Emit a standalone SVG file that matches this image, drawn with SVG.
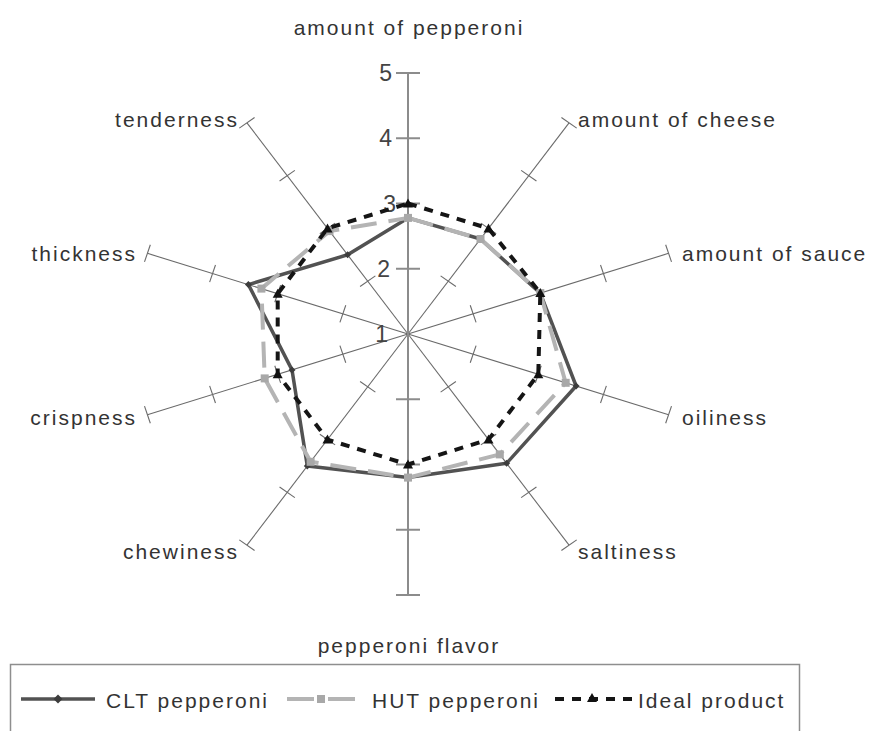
<svg xmlns="http://www.w3.org/2000/svg" xmlns:xlink="http://www.w3.org/1999/xlink" width="872" height="731" viewBox="0 0 872 731">
<style>
  .lbl { font-family: "Liberation Sans", Arial, sans-serif; font-size: 21px; letter-spacing: 2px; fill: #333; }
  .num { font-family: "Liberation Sans", Arial, sans-serif; font-size: 23px; fill: #444; text-anchor: end; }
  .ax { stroke: #6a6a6a; stroke-width: 1.1; fill: none; vector-effect: non-scaling-stroke; }
  .vax { stroke: #8c8c8c; stroke-width: 2; fill: none; }
  .clt { stroke: #525252; stroke-width: 3.5; fill: none; stroke-linejoin: round; }
  .hut { stroke: #b4b4b4; stroke-width: 4; fill: none; stroke-dasharray: 26 12; stroke-linejoin: round; }
  .ideal { stroke: #151515; stroke-width: 4; fill: none; stroke-dasharray: 9 8; stroke-linejoin: round; }
  .legbox { stroke: #8e8e8e; stroke-width: 1.5; fill: none; }
</style>
<defs>
  <g id="diag">
    <line class="ax" x1="0" y1="0" x2="0" y2="-261"/>
    <line class="ax" x1="-9" y1="-65.25" x2="9" y2="-65.25"/>
    <line class="ax" x1="-9" y1="-130.5" x2="9" y2="-130.5"/>
    <line class="ax" x1="-9" y1="-195.75" x2="9" y2="-195.75"/>
    <line class="ax" x1="-9" y1="-261" x2="9" y2="-261"/>
  </g>
  <marker id="mClt" markerWidth="10" markerHeight="10" refX="5" refY="5" markerUnits="userSpaceOnUse">
    <path d="M5 1.5 L8.5 5 L5 8.5 L1.5 5 Z" fill="#3c3c3c"/>
  </marker>
  <marker id="mHut" markerWidth="10" markerHeight="10" refX="5" refY="5" markerUnits="userSpaceOnUse">
    <rect x="1" y="1" width="8" height="8" fill="#a8a8a8"/>
  </marker>
  <marker id="mIdeal" markerWidth="12" markerHeight="12" refX="6" refY="6" markerUnits="userSpaceOnUse">
    <path d="M6 1 L11 10 L1 10 Z" fill="#111"/>
  </marker>
</defs>

<rect width="872" height="731" fill="#fff"/>

<g id="axes">
  <use xlink:href="#diag" href="#diag" transform="translate(408 334) scale(1.0498 1) rotate(36)"/>
  <use xlink:href="#diag" href="#diag" transform="translate(408 334) scale(1.0498 1) rotate(72)"/>
  <use xlink:href="#diag" href="#diag" transform="translate(408 334) scale(1.0498 1) rotate(108)"/>
  <use xlink:href="#diag" href="#diag" transform="translate(408 334) scale(1.0498 1) rotate(144)"/>
  <use xlink:href="#diag" href="#diag" transform="translate(408 334) scale(1.0498 1) rotate(216)"/>
  <use xlink:href="#diag" href="#diag" transform="translate(408 334) scale(1.0498 1) rotate(252)"/>
  <use xlink:href="#diag" href="#diag" transform="translate(408 334) scale(1.0498 1) rotate(288)"/>
  <use xlink:href="#diag" href="#diag" transform="translate(408 334) scale(1.0498 1) rotate(324)"/>
  <g id="vertical-axis">
    <line class="vax" x1="408" y1="73" x2="408" y2="595"/>
    <line class="vax" x1="396" y1="73" x2="420" y2="73"/>
    <line class="vax" x1="396" y1="138.25" x2="420" y2="138.25"/>
    <line class="vax" x1="396" y1="203.5" x2="420" y2="203.5"/>
    <line class="vax" x1="396" y1="268.75" x2="420" y2="268.75"/>
    <line class="vax" x1="396" y1="399.25" x2="420" y2="399.25"/>
    <line class="vax" x1="396" y1="464.5" x2="420" y2="464.5"/>
    <line class="vax" x1="396" y1="529.75" x2="420" y2="529.75"/>
    <line class="vax" x1="396" y1="595" x2="420" y2="595"/>
  </g>
</g>

<g id="scale-labels">
  <text class="num" x="392" y="81">5</text>
  <text class="num" x="392" y="146">4</text>
  <text class="num" x="396" y="212">3</text>
  <text class="num" x="390" y="277">2</text>
  <text class="num" x="388" y="342">1</text>
</g>

<g id="series">
  <polygon id="clt-series" class="clt" marker-start="url(#mClt)" marker-mid="url(#mClt)"
    points="408,217.9 480.5,239 540.3,293.1 576.1,386 506.6,463.3 408,477.6 307.3,466 292,369.9 248.4,284.6 347.6,254.8"/>
  <polygon id="hut-series" class="hut" marker-start="url(#mHut)" marker-mid="url(#mHut)"
    points="408,217.9 480.5,239 540.3,293.1 565.7,382.8 499.8,454.4 408,477.6 310.6,461.8 264.7,378.4 261.4,288.6 329.5,231.1"/>
  <polygon id="ideal-series" class="ideal" marker-start="url(#mIdeal)" marker-mid="url(#mIdeal)"
    points="408,203.5 488.5,228.4 540.3,293.1 538.3,374.3 488.5,439.6 408,464.5 327.5,439.6 277.7,374.3 277.7,293.7 327.5,228.4"/>
</g>

<g id="axis-labels">
  <text class="lbl" x="409" y="35" text-anchor="middle">amount of pepperoni</text>
  <text class="lbl" x="578" y="127">amount of cheese</text>
  <text class="lbl" x="682" y="261">amount of sauce</text>
  <text class="lbl" x="682" y="425">oiliness</text>
  <text class="lbl" x="578" y="559">saltiness</text>
  <text class="lbl" x="409" y="653" text-anchor="middle">pepperoni flavor</text>
  <text class="lbl" x="239" y="559" text-anchor="end">chewiness</text>
  <text class="lbl" x="137" y="425" text-anchor="end">crispness</text>
  <text class="lbl" x="137" y="261" text-anchor="end">thickness</text>
  <text class="lbl" x="239" y="127" text-anchor="end">tenderness</text>
</g>

<g id="legend">
  <rect class="legbox" x="10.5" y="664.5" width="789" height="80"/>
  <g id="legend-clt">
    <line class="clt" x1="21" y1="699" x2="95" y2="699"/>
    <path d="M58 694.5 L62.5 699 L58 703.5 L53.5 699 Z" fill="#3c3c3c"/>
    <text class="lbl" x="106" y="708">CLT pepperoni</text>
  </g>
  <g id="legend-hut">
    <line x1="287" y1="699" x2="314" y2="699" stroke="#b4b4b4" stroke-width="4"/>
    <line x1="328" y1="699" x2="355" y2="699" stroke="#b4b4b4" stroke-width="4"/>
    <rect x="317" y="695" width="8" height="8" fill="#a8a8a8"/>
    <text class="lbl" x="372" y="708">HUT pepperoni</text>
  </g>
  <g id="legend-ideal">
    <line class="ideal" x1="555" y1="699" x2="633" y2="699"/>
    <path d="M592 693 L597 702 L587 702 Z" fill="#111"/>
    <text class="lbl" x="638" y="708">Ideal product</text>
  </g>
</g>
</svg>
